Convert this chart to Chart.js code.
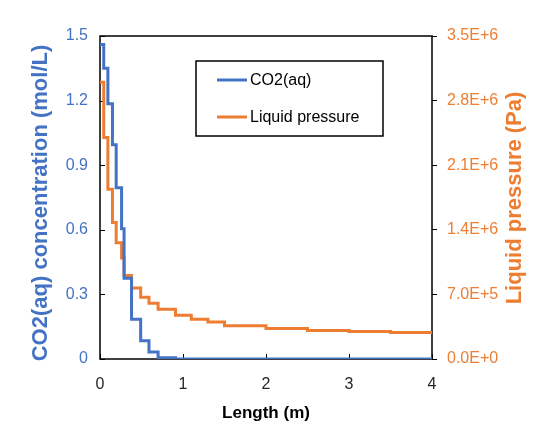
<!DOCTYPE html>
<html>
<head>
<meta charset="utf-8">
<script src="https://cdn.jsdelivr.net/npm/chart.js@4"></script>
<style>
    html, body { margin: 0; padding: 0; background: #fff; }
    #wrap { width: 549px; height: 424px; }
</style>
</head>
<body>
<div id="wrap"><canvas id="lengthChart" width="549" height="424"></canvas></div>
<script>
var co2Length = [0, 0.045, 0.095, 0.15, 0.195, 0.26, 0.29, 0.38, 0.49, 0.59, 0.70, 0.91, 4];
var co2Conc = [1.46, 1.35, 1.185, 0.995, 0.795, 0.605, 0.375, 0.185, 0.085, 0.033, 0.006, 0, 0];

var pressureLength = [0, 0.045, 0.095, 0.15, 0.195, 0.26, 0.29, 0.38, 0.49, 0.59, 0.70, 0.91, 1.1, 1.3, 1.5, 2.0, 2.5, 3.0, 3.5, 4];
var pressure = [3.0e6, 2.4e6, 1.84e6, 1.48e6, 1.26e6, 1.095e6, 0.905e6, 0.77e6, 0.67e6, 0.605e6, 0.54e6, 0.475e6, 0.432e6, 0.40e6, 0.36e6, 0.33e6, 0.31e6, 0.297e6, 0.286e6, 0.286e6];

var xTicks = [0, 1, 2, 3, 4];
var concTicks = [0, 0.3, 0.6, 0.9, 1.2, 1.5];
var pressureTicks = [0, 7e5, 1.4e6, 2.1e6, 2.8e6, 3.5e6];

var blue = '#4472C4';
var orange = '#ED7D31';
var fontName = '"Liberation Sans", Arial, sans-serif';

function toPoints(xs, ys) {
    return xs.map(function (x, i) { return { x: x, y: ys[i] }; });
}

// frame, inward ticks, vertical axis titles (both read bottom-to-top) and the boxed legend
var framePlugin = {
    id: 'frame',
    beforeDatasetsDraw: function (chart) {
        var ctx = chart.ctx;
        var a = chart.chartArea;
        var xs = chart.scales.x, yl = chart.scales.yConc;
        ctx.save();
        ctx.strokeStyle = '#000';
        ctx.lineWidth = 1.5;
        ctx.strokeRect(a.left, a.top, a.right - a.left, a.bottom - a.top);
        ctx.lineWidth = 1;
        ctx.beginPath();
        xTicks.forEach(function (v) {
            var px = Math.round(xs.getPixelForValue(v)) + 0.5;
            ctx.moveTo(px, a.bottom);
            ctx.lineTo(px, a.bottom - 5);
        });
        concTicks.forEach(function (v) {
            var py = Math.round(yl.getPixelForValue(v)) + 0.5;
            ctx.moveTo(a.left, py);
            ctx.lineTo(a.left + 5, py);
        });
        ctx.stroke();

        ctx.font = 'bold 22px ' + fontName;
        ctx.textAlign = 'center';
        ctx.textBaseline = 'middle';
        [['yConc', 41, 203], ['yPres', 515, 198]].forEach(function (t) {
            var s = chart.scales[t[0]];
            ctx.save();
            ctx.translate(t[1], t[2]);
            ctx.rotate(-Math.PI / 2);
            ctx.fillStyle = s.options.title.color;
            ctx.fillText(s.options.title.text, 0, 0);
            ctx.restore();
        });
        ctx.restore();
    },
    afterDraw: function (chart) {
        var ctx = chart.ctx;
        var bx = 196, by = 61, bw = 187, bh = 75;
        ctx.save();
        ctx.fillStyle = '#fff';
        ctx.fillRect(bx, by, bw, bh);
        ctx.strokeStyle = '#000';
        ctx.lineWidth = 1.5;
        ctx.strokeRect(bx, by, bw, bh);
        ctx.font = '16px ' + fontName;
        ctx.textBaseline = 'middle';
        ctx.textAlign = 'left';
        chart.data.datasets.forEach(function (ds, i) {
            var ly = by + 19 + i * 37;
            ctx.strokeStyle = ds.borderColor;
            ctx.lineWidth = 3;
            ctx.beginPath();
            ctx.moveTo(bx + 21, ly);
            ctx.lineTo(bx + 51, ly);
            ctx.stroke();
            ctx.fillStyle = '#000';
            ctx.fillText(ds.label, bx + 54, ly + 1);
        });
        ctx.restore();
    }
};

document.addEventListener('DOMContentLoaded', function () {
    var ctx = document.getElementById('lengthChart').getContext('2d');
    var lengthChart = new Chart(ctx, {
        type: 'line',
        data: {
            datasets: [
                {
                    label: 'CO2(aq)',
                    data: toPoints(co2Length, co2Conc),
                    yAxisID: 'yConc',
                    borderColor: blue,
                    backgroundColor: blue,
                    borderWidth: 3,
                    pointRadius: 0,
                    stepped: 'before',
                    fill: false
                },
                {
                    label: 'Liquid pressure',
                    data: toPoints(pressureLength, pressure),
                    yAxisID: 'yPres',
                    borderColor: orange,
                    backgroundColor: orange,
                    borderWidth: 3,
                    pointRadius: 0,
                    stepped: 'before',
                    fill: false
                }
            ]
        },
        options: {
            responsive: false,
            animation: false,
            layout: { padding: { top: 36, right: 0, left: 0, bottom: 0 } },
            plugins: {
                legend: { display: false },
                tooltip: { enabled: false }
            },
            scales: {
                x: {
                    type: 'linear',
                    min: 0,
                    max: 4,
                    afterFit: function (s) { s.height = 65; },
                    afterBuildTicks: function (s) { s.ticks = xTicks.map(function (v) { return { value: v }; }); },
                    grid: { display: false, drawTicks: false },
                    border: { display: false },
                    ticks: {
                        padding: 16,
                        color: '#262626',
                        font: { family: fontName, size: 16 },
                        maxRotation: 0
                    },
                    title: {
                        display: true,
                        text: 'Length (m)',
                        color: '#000',
                        font: { family: fontName, size: 17, weight: 'bold' },
                        padding: { top: 0, bottom: 0 }
                    }
                },
                yConc: {
                    type: 'linear',
                    position: 'left',
                    min: 0,
                    max: 1.5,
                    afterFit: function (s) { s.width = 100; },
                    afterBuildTicks: function (s) { s.ticks = concTicks.map(function (v) { return { value: v }; }); },
                    grid: { display: false, drawTicks: false },
                    border: { display: false },
                    ticks: {
                        padding: 12,
                        color: blue,
                        font: { family: fontName, size: 16 },
                        callback: function (v) { return v === 0 ? '0' : v.toFixed(1); }
                    },
                    title: {
                        display: false,
                        text: 'CO2(aq) concentration (mol/L)',
                        color: blue
                    }
                },
                yPres: {
                    type: 'linear',
                    position: 'right',
                    min: 0,
                    max: 3.5e6,
                    afterFit: function (s) { s.width = 117; },
                    afterBuildTicks: function (s) { s.ticks = pressureTicks.map(function (v) { return { value: v }; }); },
                    grid: { display: true, drawOnChartArea: false, drawTicks: true, tickLength: 5, color: '#000', lineWidth: 1 },
                    border: { display: false },
                    ticks: {
                        padding: 10,
                        color: orange,
                        font: { family: fontName, size: 16 },
                        callback: function (v) { return v.toExponential(1).toUpperCase(); }
                    },
                    title: {
                        display: false,
                        text: 'Liquid pressure (Pa)',
                        color: orange
                    }
                }
            }
        },
        plugins: [framePlugin]
    });
});
</script>
</body>
</html>
